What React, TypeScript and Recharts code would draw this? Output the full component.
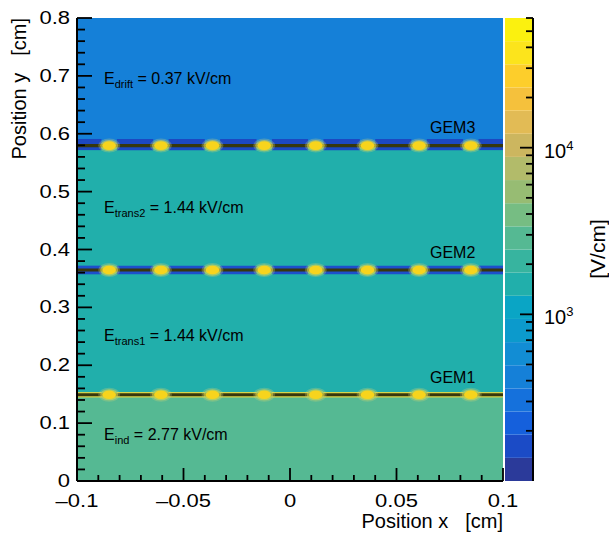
import React from 'react';
import { ComposedChart, XAxis, YAxis, ReferenceArea, ReferenceDot, Scatter } from 'recharts';

// ---- data ----
// Field region boundaries along y [cm] (bottom to top) and the field in each region [V/cm]
const regionEdges = [0, 0.149, 0.3645, 0.5795, 0.8];
const regionFields = [2770, 1440, 1440, 370];
const regionNames = ['ind', 'trans1', 'trans2', 'drift'];

// GEM foils: y position [cm] and names
const gemY = [0.149, 0.3645, 0.5795];
const gemNames = ['GEM1', 'GEM2', 'GEM3'];

// Hole centres along the x cut [cm]
const holeX = [-0.0849, -0.0606, -0.0364, -0.0121, 0.0121, 0.0364, 0.0606, 0.0849];

// Axis ticks
const xMajor = [-0.1, -0.05, 0, 0.05, 0.1];
const xTicks = [-0.1, -0.09, -0.08, -0.07, -0.06, -0.05, -0.04, -0.03, -0.02, -0.01, 0,
  0.01, 0.02, 0.03, 0.04, 0.05, 0.06, 0.07, 0.08, 0.09, 0.1];
const yMajor = [0, 0.1, 0.2, 0.3, 0.4, 0.5, 0.6, 0.7, 0.8];
const yTicks = [0, 0.02, 0.04, 0.06, 0.08, 0.1, 0.12, 0.14, 0.16, 0.18, 0.2, 0.22, 0.24, 0.26, 0.28,
  0.3, 0.32, 0.34, 0.36, 0.38, 0.4, 0.42, 0.44, 0.46, 0.48, 0.5, 0.52, 0.54, 0.56, 0.58, 0.6,
  0.62, 0.64, 0.66, 0.68, 0.7, 0.72, 0.74, 0.76, 0.78, 0.8];

// Colour scale (log) range [V/cm] and its ticks
const zRange = [100, 60000];
const zMajor = [1000, 10000];
const zTicks = [200, 300, 400, 500, 600, 700, 800, 900, 1000, 2000, 3000, 4000, 5000, 6000, 7000,
  8000, 9000, 10000, 20000, 30000, 40000, 50000, 60000];

// ---- styles / layout ----
const FONT = '"Liberation Sans", Arial, Helvetica, sans-serif';
// palette steps, bottom to top
const palette = ['#2b3a9a', '#1b4bc6', '#1560dc', '#1571dc', '#1580d8', '#128dd4', '#0c9acc',
  '#0aa5c5', '#21afab', '#37b49f', '#55b993', '#76bd83', '#97bc73', '#b2bb6a', '#ccb65f',
  '#e2bb55', '#f5c13c', '#fdce2b', '#fce41c', '#fbf10f'];
const foilColor = '#37370d';
const foilHalf = 0.0027;
const gemHalo = [
  { color: '#d8d64c', above: 0.0047, below: 0.0047 },
  { color: '#1d4fcc', above: 0.0076, below: 0.0074 },
  { color: '#1c48c2', above: 0.0115, below: 0.0078 },
];
const holeGap = 0.0036;
const fieldLabelX = -0.0873;
const fieldLabelY = [0.0715, 0.2425, 0.4635, 0.686];
const gemLabelX = 0.0657;
const gemLabelDy = 0.021;
const SQ = 0.87; // vertical squeeze of tick label glyphs
const TW = 1.8; // tick mark thickness

const W = 609;
const H = 537;
const frame = { top: 18, right: 106, bottom: 56, left: 77 };
const bar = { left: 505, width: 28, right: 76 };

const logMin = Math.log10(zRange[0]);
const logMax = Math.log10(zRange[1]);
const colorOf = (v: number) => {
  const f = (Math.log10(v) - logMin) / (logMax - logMin);
  const i = Math.min(palette.length - 1, Math.max(0, Math.floor(f * palette.length)));
  return palette[i];
};
const bandEdge = (i: number) => Math.pow(10, logMin + (i * (logMax - logMin)) / palette.length);

const near = (v: number, list: number[]) => list.some((m) => Math.abs(m - v) < 1e-9);

// hole markers for every foil
const holes = gemY.flatMap((y) => holeX.map((x) => ({ x, y })));

// halo segments between the holes
const haloSegments = () => {
  const edges = [-0.1, ...holeX.flatMap((h) => [h - holeGap, h + holeGap]), 0.1];
  const segs: { x1: number; x2: number }[] = [];
  for (let i = 0; i < edges.length; i += 2) segs.push({ x1: edges[i], x2: edges[i + 1] });
  return segs;
};

// axis ticks: inward tick mark plus label for the major ones
const XTick = (props: any) => {
  const { x, y, payload } = props;
  const v = payload.value as number;
  const major = near(v, xMajor);
  const len = major ? 13 : 6;
  const txt = v < 0 ? '\u2013' + String(Math.abs(v)) : String(v);
  return (
    <g>
      <path d={`M${x},${y}V${y - len}`} stroke="#000" strokeWidth={TW} fill="none" />
      {major && (
        <text
          transform={`translate(${x},${y + 26}) scale(1,${SQ})`}
          textAnchor="middle"
          fontSize={22}
          fontFamily={FONT}
          fill="#000"
        >
          {txt}
        </text>
      )}
    </g>
  );
};

const YTick = (props: any) => {
  const { x, y, payload } = props;
  const v = payload.value as number;
  const major = near(v, yMajor);
  const len = major ? 15 : 8;
  return (
    <g>
      <path d={`M${x},${y}H${x + len}`} stroke="#000" strokeWidth={TW} fill="none" />
      {major && (
        <text
          transform={`translate(${x - 7},${y + 6}) scale(1,${SQ})`}
          textAnchor="end"
          fontSize={22}
          fontFamily={FONT}
          fill="#000"
        >
          {String(v)}
        </text>
      )}
    </g>
  );
};

const ZTick = (props: any) => {
  const { x, y, payload } = props;
  const v = payload.value as number;
  const major = near(v, zMajor);
  const len = major ? 13 : 7;
  return (
    <g>
      <path d={`M${x},${y}H${x - len}`} stroke="#000" strokeWidth={TW} fill="none" />
      {major && (
        <text x={x + 11} y={y + 10} fontSize={20} fontFamily={FONT} fill="#000">
          10
          <tspan fontSize={13} dy={-8}>
            {String(Math.round(Math.log10(v)))}
          </tspan>
        </text>
      )}
    </g>
  );
};

const HoleShape = (props: any) => {
  const { cx, cy } = props;
  return (
    <g>
      <ellipse cx={cx} cy={cy} rx={11} ry={7} fill="#c9d27a" fillOpacity={0.3} />
      <ellipse cx={cx} cy={cy} rx={9} ry={5.6} fill="#e6d840" fillOpacity={0.55} />
      <ellipse cx={cx} cy={cy} rx={6.8} ry={4.3} fill="#f7d41d" />
    </g>
  );
};

const fieldText = (name: string, v: number) => (p: any) => (
  <text x={p.cx} y={p.cy} fontSize={16} fontFamily={FONT} fill="#000">
    E
    <tspan fontSize={11} dy={4}>
      {name}
    </tspan>
    <tspan dy={-4}>{` = ${(v / 1000).toFixed(2)} kV/cm`}</tspan>
  </text>
);

const gemText = (name: string) => (p: any) => (
  <text x={p.cx} y={p.cy} fontSize={16} fontFamily={FONT} fill="#000">
    {name}
  </text>
);

const under: React.CSSProperties = { position: 'absolute', left: 0, top: 0, zIndex: 1 };
const over: React.CSSProperties = { position: 'absolute', left: 0, top: 0, zIndex: 5 };

export default function App() {
  return (
    <div style={{ position: 'absolute', left: 0, top: 0, width: W, height: H, background: '#fff' }}>
      {/* field map */}
      <div style={under}>
        <ComposedChart width={W} height={H} margin={frame} data={holes}>
          <XAxis type="number" dataKey="x" domain={[-0.1, 0.1]} allowDataOverflow hide />
          <YAxis type="number" dataKey="y" domain={[0, 0.8]} allowDataOverflow hide />

          {regionFields.map((v, i) => (
            <ReferenceArea
              key={`r${i}`}
              x1={-0.1}
              x2={0.1}
              y1={regionEdges[i]}
              y2={regionEdges[i + 1]}
              fill={colorOf(v)}
              fillOpacity={1}
              stroke="none"
            />
          ))}

          {gemY.map((y, g) =>
            haloSegments().map((s, k) => (
              <ReferenceArea
                key={`h${g}-${k}`}
                x1={s.x1}
                x2={s.x2}
                y1={y - gemHalo[g].below}
                y2={y + gemHalo[g].above}
                fill={gemHalo[g].color}
                fillOpacity={1}
                stroke="none"
              />
            ))
          )}

          {gemY.map((y, g) => (
            <ReferenceArea
              key={`f${g}`}
              x1={-0.1}
              x2={0.1}
              y1={y - foilHalf}
              y2={y + foilHalf}
              fill={foilColor}
              fillOpacity={1}
              stroke="none"
            />
          ))}

          <Scatter data={holes} dataKey="y" shape={HoleShape} isAnimationActive={false} />

          {regionFields.map((v, i) => (
            <ReferenceDot
              key={`l${i}`}
              x={fieldLabelX}
              y={fieldLabelY[i]}
              r={1}
              shape={fieldText(regionNames[i], v)}
            />
          ))}
          {gemY.map((y, g) => (
            <ReferenceDot key={`g${g}`} x={gemLabelX} y={y + gemLabelDy} r={1} shape={gemText(gemNames[g])} />
          ))}
        </ComposedChart>
      </div>

      {/* frame axes, drawn over the map */}
      <div style={over}>
        <ComposedChart
          width={W}
          height={H}
          margin={{ top: frame.top, right: frame.right, bottom: 0, left: 0 }}
          data={holes}
        >
          <XAxis
            type="number"
            dataKey="x"
            domain={[-0.1, 0.1]}
            allowDataOverflow
            ticks={xTicks}
            interval={0}
            height={frame.bottom}
            tickLine={false}
            tickSize={0}
            tickMargin={0}
            axisLine={{ stroke: '#000', strokeWidth: 2 }}
            tick={<XTick />}
            label={{
              content: () => (
                <text x={503} y={528} textAnchor="end" fontSize={20} fontFamily={FONT} fill="#000">
                  Position x<tspan dx={17}>[cm]</tspan>
                </text>
              ),
            }}
          />
          <YAxis
            type="number"
            dataKey="y"
            domain={[0, 0.8]}
            allowDataOverflow
            ticks={yTicks}
            interval={0}
            width={frame.left}
            tickLine={false}
            tickSize={0}
            tickMargin={0}
            axisLine={{ stroke: '#000', strokeWidth: 2 }}
            tick={<YTick />}
            label={{
              content: () => (
                <text
                  transform="translate(26,18) rotate(-90)"
                  textAnchor="end"
                  fontSize={20}
                  fontFamily={FONT}
                  fill="#000"
                >
                  Position y<tspan dx={17}>[cm]</tspan>
                </text>
              ),
            }}
          />
        </ComposedChart>
      </div>

      {/* colour scale bands */}
      <div style={{ ...under, left: bar.left }}>
        <ComposedChart
          width={bar.width + bar.right}
          height={H}
          margin={{ top: frame.top, right: bar.right, bottom: frame.bottom, left: 0 }}
          data={[{ x: 0 }, { x: 1 }]}
        >
          <XAxis type="number" dataKey="x" domain={[0, 1]} allowDataOverflow hide />
          <YAxis type="number" scale="log" domain={zRange} allowDataOverflow hide />
          {palette.map((c, i) => (
            <ReferenceArea
              key={`b${i}`}
              x1={0}
              x2={1}
              y1={bandEdge(i)}
              y2={bandEdge(i + 1)}
              fill={c}
              fillOpacity={1}
              stroke="none"
            />
          ))}
        </ComposedChart>
      </div>

      {/* colour scale axis, drawn over the bands */}
      <div style={{ ...over, left: bar.left }}>
        <ComposedChart
          width={bar.width + bar.right}
          height={H}
          margin={{ top: frame.top, right: 0, bottom: frame.bottom, left: 0 }}
          data={[{ x: 0 }, { x: 1 }]}
        >
          <XAxis type="number" dataKey="x" domain={[0, 1]} allowDataOverflow hide />
          <YAxis
            orientation="right"
            type="number"
            scale="log"
            domain={zRange}
            allowDataOverflow
            ticks={zTicks}
            interval={0}
            width={bar.right}
            tickLine={false}
            tickSize={0}
            tickMargin={0}
            axisLine={{ stroke: '#000', strokeWidth: 2 }}
            tick={<ZTick />}
            label={{
              content: () => (
                <text
                  transform="translate(100,249) rotate(-90)"
                  textAnchor="middle"
                  fontSize={21}
                  fontFamily={FONT}
                  fill="#000"
                >
                  [V/cm]
                </text>
              ),
            }}
          />
        </ComposedChart>
      </div>
    </div>
  );
}
